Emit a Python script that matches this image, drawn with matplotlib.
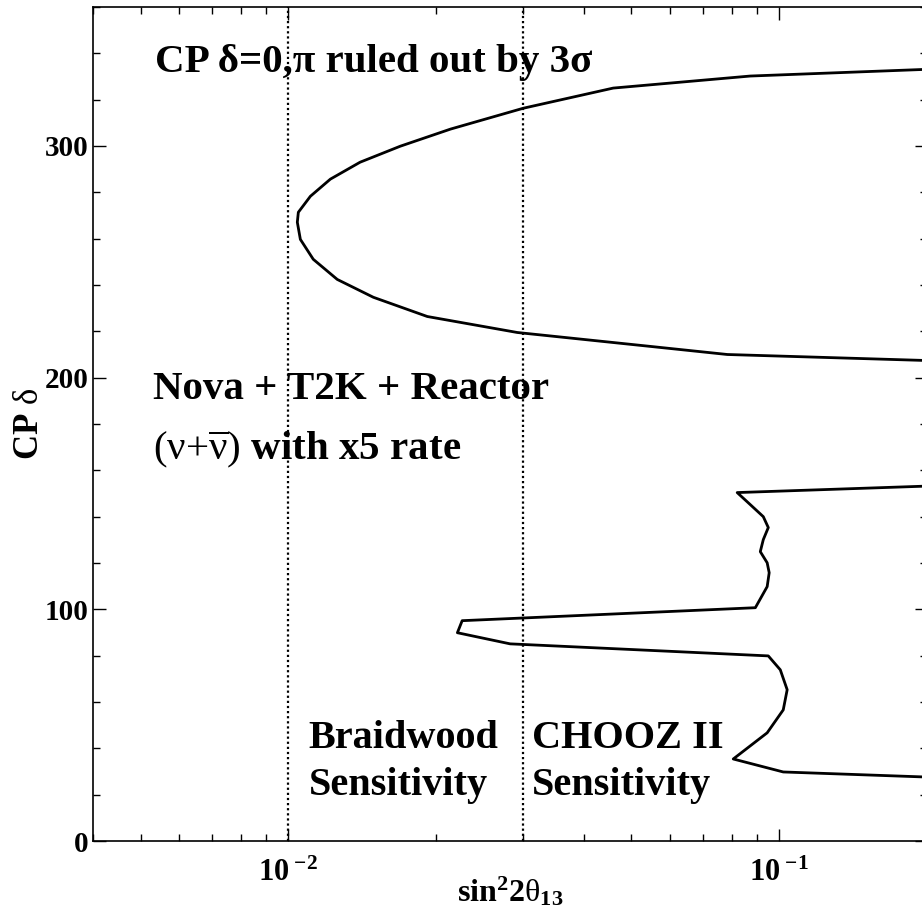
import numpy as np
import matplotlib.pyplot as plt
from matplotlib.ticker import FixedLocator, MultipleLocator, FuncFormatter

plt.rcParams['font.family'] = ['Liberation Serif', 'DejaVu Serif']
plt.rcParams['mathtext.fontset'] = 'custom'
plt.rcParams['mathtext.rm'] = 'Liberation Serif'
plt.rcParams['mathtext.it'] = 'Liberation Serif:italic'
plt.rcParams['mathtext.bf'] = 'Liberation Serif:bold'

# 3 sigma contour around delta = 270 (sin^2 2theta13, CP delta in degrees)
upper_s2t = [0.2, 0.0873, 0.0459, 0.0301, 0.0214, 0.0169, 0.0140, 0.01218,
             0.01109, 0.01048, 0.01043, 0.01058, 0.01124, 0.01258, 0.01490,
             0.01919, 0.02927, 0.0546, 0.0784, 0.2]
upper_delta = [333.1, 330.2, 325.0, 316.3, 307.3, 299.9, 293.0, 285.7,
               278.3, 271.4, 267.1, 259.7, 251.1, 242.4, 234.7,
               226.4, 219.5, 213.5, 210.0, 207.4]

# 3 sigma contour around delta = 90
lower_s2t = [0.2, 0.0821, 0.0873, 0.0928, 0.0950, 0.0928, 0.0915, 0.0945,
             0.0954, 0.0945, 0.0894, 0.0226, 0.0221, 0.0283, 0.0950, 0.1005,
             0.1038, 0.1019, 0.0945, 0.0806, 0.1019, 0.2]
lower_delta = [153.2, 150.4, 145.2, 140.0, 135.3, 130.1, 124.9, 120.1,
               115.8, 109.8, 100.7, 95.1, 89.9, 85.1, 79.9, 73.9,
               65.3, 56.6, 46.7, 35.4, 29.8, 27.6]

# reactor sensitivity limits
braidwood_limit = 0.01
chooz2_limit = 0.03

x_range = (4e-3, 0.2)
y_range = (0, 360)
y_major = [0, 100, 200, 300]


def log_label(value, pos):
    exponent = int(np.round(np.log10(value)))
    return r'$\mathbf{10}^{\ \mathbf{%d}}$' % exponent


fig = plt.figure(figsize=(9.22, 9.13), dpi=100)
ax = fig.add_axes([93 / 922, 72 / 913, 834 / 922, 834 / 913])

ax.plot(upper_s2t, upper_delta, color='black', lw=2.0)
ax.plot(lower_s2t, lower_delta, color='black', lw=2.0)

for limit in (braidwood_limit, chooz2_limit):
    ax.axvline(limit, color='black', lw=1.6, linestyle=(0, (1, 1.3)))

ax.set_xscale('log')
ax.set_xlim(*x_range)
ax.set_ylim(*y_range)

ax.xaxis.set_major_locator(FixedLocator([1e-2, 1e-1]))
ax.xaxis.set_major_formatter(FuncFormatter(log_label))
ax.yaxis.set_major_locator(FixedLocator(y_major))
ax.yaxis.set_minor_locator(MultipleLocator(20))

ax.tick_params(which='both', direction='in', top=True, right=True, width=1.0)
ax.tick_params(which='major', length=9)
ax.tick_params(which='minor', length=5)
ax.tick_params(axis='x', which='major', labelsize=22, pad=12.5)
ax.tick_params(axis='y', which='major', labelsize=21, pad=3)
for lab in ax.get_yticklabels():
    lab.set_fontweight('bold')
for spine in ax.spines.values():
    spine.set_linewidth(1.2)

ax.set_xlabel(r'$\mathbf{sin}^{\mathbf{2}}\mathbf{2}\mathrm{\theta}_{\mathbf{13}}$',
              fontsize=23)
ax.xaxis.set_label_coords(0.5, -0.040)
ax.set_ylabel(r'CP $\mathrm{\delta}$', fontsize=25, fontweight='bold', labelpad=-1)

ax.text(5.36e-3, 332, 'CP δ=0,π ruled out by 3σ', fontsize=29.5, fontweight='bold')
ax.text(5.31e-3, 190.6, 'Nova + T2K + Reactor', fontsize=29.5, fontweight='bold')
ax.text(5.31e-3, 164.6, r'$\mathrm{(\nu{+}\overline{\nu})}$ with x5 rate',
        fontsize=29.5, fontweight='bold')

ax.text(1.1e-2, 40.2, 'Braidwood', fontsize=29, fontweight='bold')
ax.text(1.1e-2, 19.9, 'Sensitivity', fontsize=29, fontweight='bold')
ax.text(3.14e-2, 40.2, 'CHOOZ II', fontsize=29, fontweight='bold')
ax.text(3.14e-2, 19.9, 'Sensitivity', fontsize=29, fontweight='bold')

fig.savefig('out.png', dpi=100)
